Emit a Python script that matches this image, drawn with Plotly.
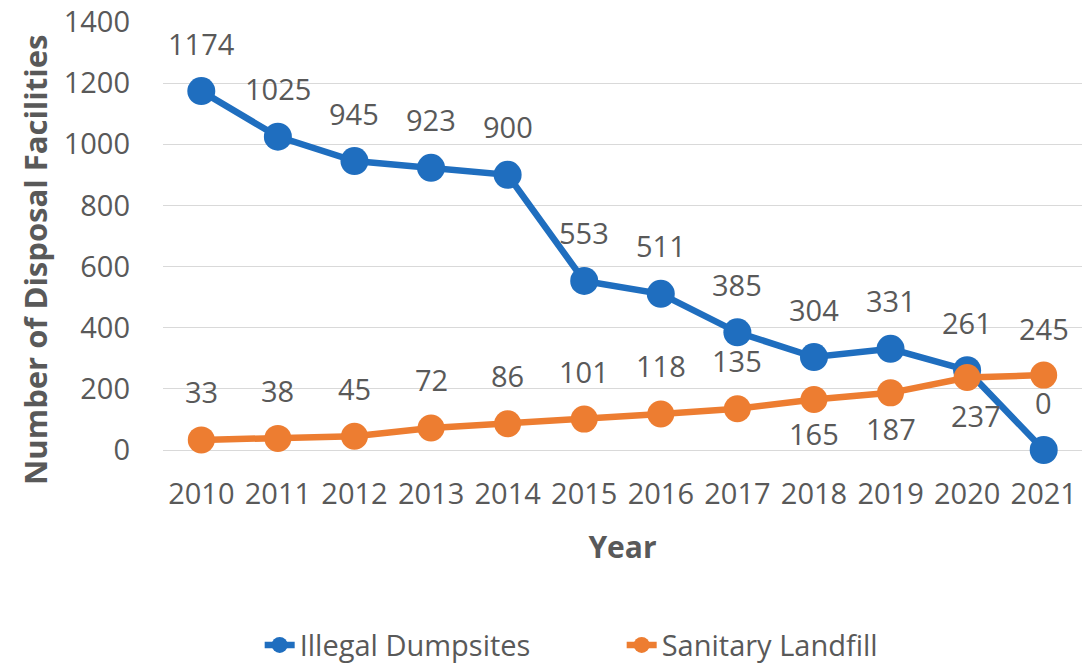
import plotly.graph_objects as go

years = ["2010", "2011", "2012", "2013", "2014", "2015",
         "2016", "2017", "2018", "2019", "2020", "2021"]
illegal_dumpsites = [1174, 1025, 945, 923, 900, 553, 511, 385, 304, 331, 261, 0]
sanitary_landfill = [33, 38, 45, 72, 86, 101, 118, 135, 165, 187, 237, 245]

BLUE = "#1f6ebf"
ORANGE = "#ed7d31"
TEXT = "#595959"
FONT = "Open Sans"

fig = go.Figure()
fig.add_trace(go.Scatter(
    x=years, y=illegal_dumpsites, name="Illegal Dumpsites",
    mode="lines+markers", cliponaxis=False,
    line=dict(color=BLUE, width=6.5),
    marker=dict(color=BLUE, size=28),
))
fig.add_trace(go.Scatter(
    x=years, y=sanitary_landfill, name="Sanitary Landfill",
    mode="lines+markers", cliponaxis=False,
    line=dict(color=ORANGE, width=6.5),
    marker=dict(color=ORANGE, size=27),
))

# value labels: (xshift, yshift) in pixels for each point
blue_shift = [(0, 48)] * len(years)
orange_shift = [(0, 48)] * 8 + [(0, -34), (0, -36), (9, -38), (0, 47)]

annotations = []
for i, (v, (dx, dy)) in enumerate(zip(illegal_dumpsites, blue_shift)):
    annotations.append(dict(x=i, y=v, xref="x", yref="y", text=str(v),
                            showarrow=False, xshift=dx, yshift=dy,
                            font=dict(family=FONT, size=29, color=TEXT)))
for i, (v, (dx, dy)) in enumerate(zip(sanitary_landfill, orange_shift)):
    annotations.append(dict(x=i, y=v, xref="x", yref="y", text=str(v),
                            showarrow=False, xshift=dx, yshift=dy,
                            font=dict(family=FONT, size=29, color=TEXT)))

# vertical axis title, placed slightly below the plot's mid-height
annotations.append(dict(
    text="<b>Number of Disposal Facilities</b>", textangle=-90,
    xref="paper", yref="paper", x=-0.14, y=0.445,
    xanchor="center", yanchor="middle", showarrow=False,
    font=dict(family=FONT, size=31, color=TEXT),
))

fig.update_layout(
    width=1082, height=663,
    margin=dict(l=163, r=0, t=22, b=213),
    paper_bgcolor="white", plot_bgcolor="white",
    font=dict(family=FONT, size=28, color=TEXT),
    annotations=annotations,
    legend=dict(orientation="h", xref="container", yref="container",
                x=0.240, xanchor="left", y=0.027, yanchor="middle",
                font=dict(family=FONT, size=29, color=TEXT),
                entrywidth=317, entrywidthmode="pixels",
                tracegroupgap=0),
    showlegend=True,
)
fig.update_xaxes(
    type="category", range=[-0.5, 11.5],
    showgrid=False, showline=False, ticks="",
    tickfont=dict(family=FONT, size=29, color=TEXT),
    ticklabelstandoff=24,
    title=dict(text="<b>Year</b>", standoff=25,
               font=dict(family=FONT, size=30, color=TEXT)),
    automargin=False,
)
fig.update_yaxes(
    range=[0, 1400], dtick=200,
    showgrid=True, gridcolor="#d9d9d9", gridwidth=1,
    zeroline=True, zerolinecolor="#d9d9d9", zerolinewidth=1,
    showline=False, ticks="",
    tickfont=dict(family=FONT, size=29, color=TEXT),
    ticklabelstandoff=32,
    automargin=False,
)

fig.write_html("out.html")
